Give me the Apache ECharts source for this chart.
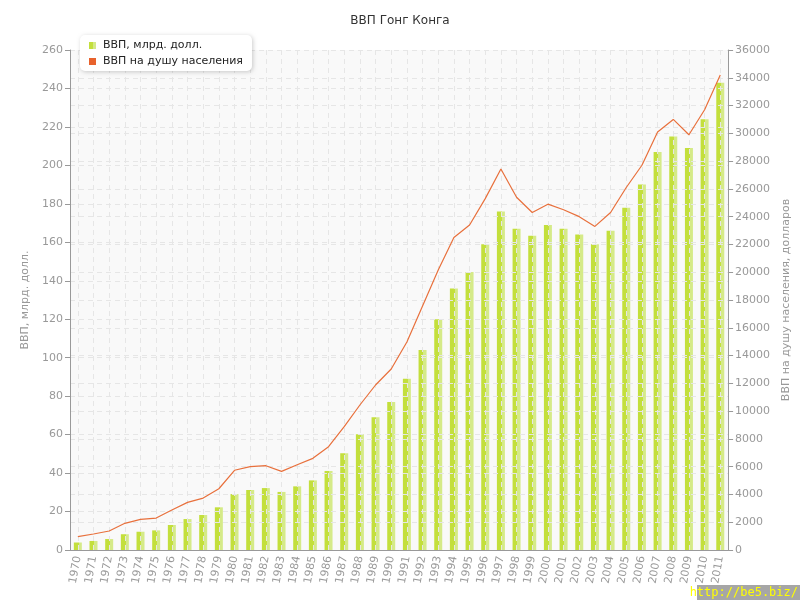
<!DOCTYPE html>
<html><head><meta charset="utf-8">
<script src="https://cdn.jsdelivr.net/npm/echarts@6/dist/echarts.min.js"></script>
<style>html,body{margin:0;padding:0;background:#fff}#c{width:800px;height:600px}</style>
</head><body><div id="c"></div>
<script>
const years = ['1970','1971','1972','1973','1974','1975','1976','1977','1978','1979','1980','1981','1982','1983','1984','1985','1986','1987','1988','1989','1990','1991','1992','1993','1994','1995','1996','1997','1998','1999','2000','2001','2002','2003','2004','2005','2006','2007','2008','2009','2010','2011'];
const gdpBln = [3.9,4.7,5.7,8.2,9.5,10.2,13,16.1,18.2,22.2,29.1,31.2,32.2,30.2,33.1,36.2,41.1,50.3,60.2,69,77,89,104,120,136,144.5,159,176,167,163.4,169,167,164,159,166,178,190,207,215,209,224,243];
const gdpPerCapita = [960,1150,1370,1920,2200,2300,2880,3430,3740,4410,5740,6000,6070,5660,6140,6600,7440,8880,10440,11880,13030,14980,17570,20160,22500,23400,25300,27430,25400,24300,24900,24500,24000,23300,24300,26100,27700,30100,31000,29900,31700,34200];
const seriesNames = ['ВВП, млрд. долл.', 'ВВП на душу населения'];
const titleText = 'ВВП Гонг Конга';
const leftAxisName = 'ВВП, млрд. долл.';
const rightAxisName = 'ВВП на душу населения, долларов';

const chart = echarts.init(document.getElementById('c'), null, {renderer: 'canvas'});
const font = 'DejaVu Sans';
const gridLine = {show: true, lineStyle: {color: '#e6e6e6', type: [5, 4], width: 1}};
chart.setOption({
  animation: false,
  textStyle: {fontFamily: font},
  title: {text: titleText, left: 'center', top: 10, textStyle: {fontSize: 12, fontWeight: 'normal', color: '#333', fontFamily: font}},
  legend: {
    orient: 'vertical', left: 80, top: 35, padding: [5, 9, 4, 9], itemGap: 5, z: 20,
    itemWidth: 7, itemHeight: 7, icon: 'rect',
    backgroundColor: '#fff', borderRadius: 5,
    shadowColor: 'rgba(0,0,0,0.2)', shadowBlur: 4, shadowOffsetX: 1, shadowOffsetY: 1,
    textStyle: {fontSize: 11, color: '#222', fontFamily: font, padding: [0, 0, 0, 2]},
    data: seriesNames
  },
  grid: {left: 70, right: 70, top: 50, bottom: 50, show: true, backgroundColor: '#f9f9f9', borderWidth: 0},
  xAxis: {
    type: 'category', data: years, boundaryGap: true, z: 3,
    axisLine: {lineStyle: {color: '#999'}},
    axisTick: {alignWithLabel: true, length: 5, lineStyle: {color: '#999'}},
    axisLabel: {rotate: 80, color: '#999', fontSize: 11, margin: 6, interval: 0, fontFamily: font},
    splitLine: {show: false}
  },
  yAxis: [
    {
      type: 'value', min: 0, max: 260, interval: 20, z: 3,
      name: leftAxisName, nameLocation: 'middle', nameRotate: 90, nameGap: 33,
      nameTextStyle: {color: '#999', fontSize: 11, fontFamily: font},
      axisLine: {show: true, lineStyle: {color: '#999'}},
      axisTick: {show: true, length: 5, lineStyle: {color: '#999'}},
      axisLabel: {color: '#999', fontSize: 11, margin: 7, fontFamily: font},
      splitLine: gridLine
    },
    {
      type: 'value', min: 0, max: 36000, interval: 2000, z: 3,
      name: rightAxisName, nameLocation: 'middle', nameRotate: 90, nameGap: 48,
      nameTextStyle: {color: '#999', fontSize: 11, fontFamily: font},
      axisLine: {show: true, lineStyle: {color: '#999'}},
      axisTick: {show: true, length: 5, lineStyle: {color: '#999'}},
      axisLabel: {color: '#999', fontSize: 11, margin: 7, fontFamily: font, formatter: v => String(v)},
      splitLine: gridLine
    }
  ],
  series: [
    {
      name: seriesNames[0], type: 'bar', yAxisIndex: 0, data: gdpBln, barWidth: 8, z: 2,
      itemStyle: {color: new echarts.graphic.LinearGradient(0, 0, 1, 0, [
        {offset: 0, color: '#c3df3c'}, {offset: 0.6, color: '#c3df3c'},
        {offset: 0.61, color: '#d5ea88'}, {offset: 1, color: '#d5ea88'}
      ])},
      markLine: {
        silent: true, symbol: 'none', z: 4, animation: false,
        label: {show: false},
        lineStyle: {color: '#e6e6e6', type: [5, 4], width: 1},
        emphasis: {disabled: true},
        data: years.map(y => ({xAxis: y}))
      }
    },
    {
      name: seriesNames[1], type: 'line', yAxisIndex: 1, data: gdpPerCapita, z: 5,
      symbol: 'none', lineStyle: {color: '#e8703c', width: 1.2}, itemStyle: {color: '#e8622c'}
    }
  ],
  color: ['#b8d832', '#e8622c'],
  graphic: [
    {type: 'rect', right: 0, bottom: 0, shape: {width: 103, height: 15}, style: {fill: '#a6a6a6'}, z: 100},
    {type: 'text', right: 2, bottom: 1, style: {text: 'http://be5.biz/', fill: '#ffff00', font: '12px "DejaVu Sans Mono"'}, z: 101}
  ]
});
</script></body></html>
